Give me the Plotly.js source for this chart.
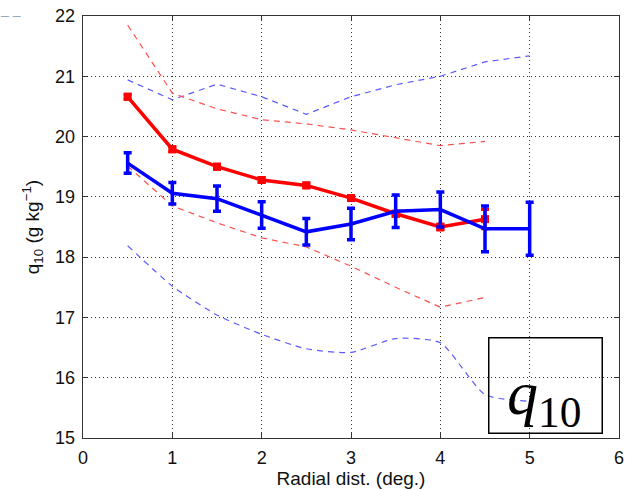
<!DOCTYPE html>
<html><head><meta charset="utf-8">
<script src="https://cdn.plot.ly/plotly-3.0.1.min.js"></script>
<style>body{margin:0;background:#fff}#c{width:626px;height:490px}</style>
</head><body><div id="c"></div>
<script>
const xBlue = [0.5,1,1.5,2,2.5,3,3.5,4,4.5,5];
const blueMean = [19.56,19.06,18.97,18.70,18.42,18.55,18.76,18.79,18.47,18.47];
const blueErr  = [0.17,0.18,0.21,0.22,0.22,0.26,0.27,0.29,0.38,0.44];
const blueUpper = [20.94,20.61,20.87,20.66,20.37,20.66,20.86,21.00,21.24,21.34];
const blueLower = [18.19,17.52,17.04,16.72,16.48,16.42,16.65,16.58,15.72,15.61];

const xRed = [0.5,1,1.5,2,2.5,3,3.5,4,4.5];
const redMean = [20.66,19.79,19.50,19.28,19.19,18.98,18.72,18.50,18.63];
const redErr  = [0.04,0.04,0.04,0.04,0.04,0.04,0.04,0.05,0.16];
const redUpper = [21.85,20.72,20.46,20.28,20.21,20.11,19.98,19.85,19.92];
const redLower = [19.51,18.85,18.57,18.32,18.17,17.85,17.50,17.17,17.33];

const xTicks = [0,1,2,3,4,5,6];
const yTicks = [15,16,17,18,19,20,21,22];

const traces = [
  {x:xBlue,y:blueUpper,mode:'lines',line:{color:'#5a5aff',width:1.2,dash:'6px,5px'},hoverinfo:'skip'},
  {x:xBlue,y:blueLower,mode:'lines',line:{color:'#5a5aff',width:1.2,dash:'6px,5px',shape:'spline',smoothing:0.6},hoverinfo:'skip'},
  {x:xRed,y:redUpper,mode:'lines',line:{color:'#ff5050',width:1.2,dash:'6px,5px'},hoverinfo:'skip'},
  {x:xRed,y:redLower,mode:'lines',line:{color:'#ff5050',width:1.2,dash:'6px,5px'},hoverinfo:'skip'},
  {x:xRed,y:redMean,mode:'lines+markers',line:{color:'#ff0000',width:3.5},
   marker:{symbol:'square',size:8,color:'#ff0000'},
   error_y:{type:'data',array:redErr,visible:true,color:'#ff0000',thickness:3,width:4}},
  {x:xBlue,y:blueMean,mode:'lines',line:{color:'#0000ff',width:3.5},
   error_y:{type:'data',array:blueErr,visible:true,color:'#0000ff',thickness:3.5,width:4}}
];

const FONT = 'Liberation Sans, Arial, sans-serif';
const axisCommon = {
  showline:true, mirror:'ticks', linecolor:'#333', linewidth:1.3,
  ticks:'inside', ticklen:5, tickcolor:'#333', ticklabelstandoff:3,
  showgrid:true, gridcolor:'#333', griddash:'1px,3px', gridwidth:1,
  zeroline:false, tickfont:{family:FONT,size:18,color:'#111'}
};

const layout = {
  width:626, height:490,
  margin:{l:83,r:7,t:16,b:52},
  paper_bgcolor:'#fff', plot_bgcolor:'#fff',
  font:{family:FONT,size:18,color:'#111'},
  showlegend:false,
  xaxis:Object.assign({}, axisCommon, {range:[0,6], tickvals:xTicks, ticktext:xTicks.map(String),
    title:{text:'Radial dist. (deg.)', font:{family:FONT,size:19,color:'#111'}, standoff:0}}),
  yaxis:Object.assign({}, axisCommon, {range:[15,22], tickvals:yTicks, ticktext:yTicks.map(String),
    title:{text:'q<sub>10</sub> (g kg<sup>−1</sup>)', font:{family:FONT,size:19,color:'#111'}, standoff:10}}),
  annotations:[
    {xref:'x',yref:'y',x:5.175,y:15.87,text:' ',showarrow:false,
     font:{size:10},
     bordercolor:'#000',borderwidth:1.5,width:112,height:94,borderpad:0},
    {xref:'x',yref:'y',x:5.16,y:15.87,yshift:-12,text:'<i>q</i><sub>10</sub>',showarrow:false,
     font:{family:'Liberation Serif, Times New Roman, serif',size:62,color:'#000'}},
    {xref:'paper',yref:'paper',x:-0.157,y:1.003,xanchor:'left',yanchor:'middle',text:'– –',showarrow:false,
     font:{family:FONT,size:14,color:'#90aac4'}}
  ]
};

Plotly.newPlot('c', traces, layout, {staticPlot:true});
</script>
</body></html>
